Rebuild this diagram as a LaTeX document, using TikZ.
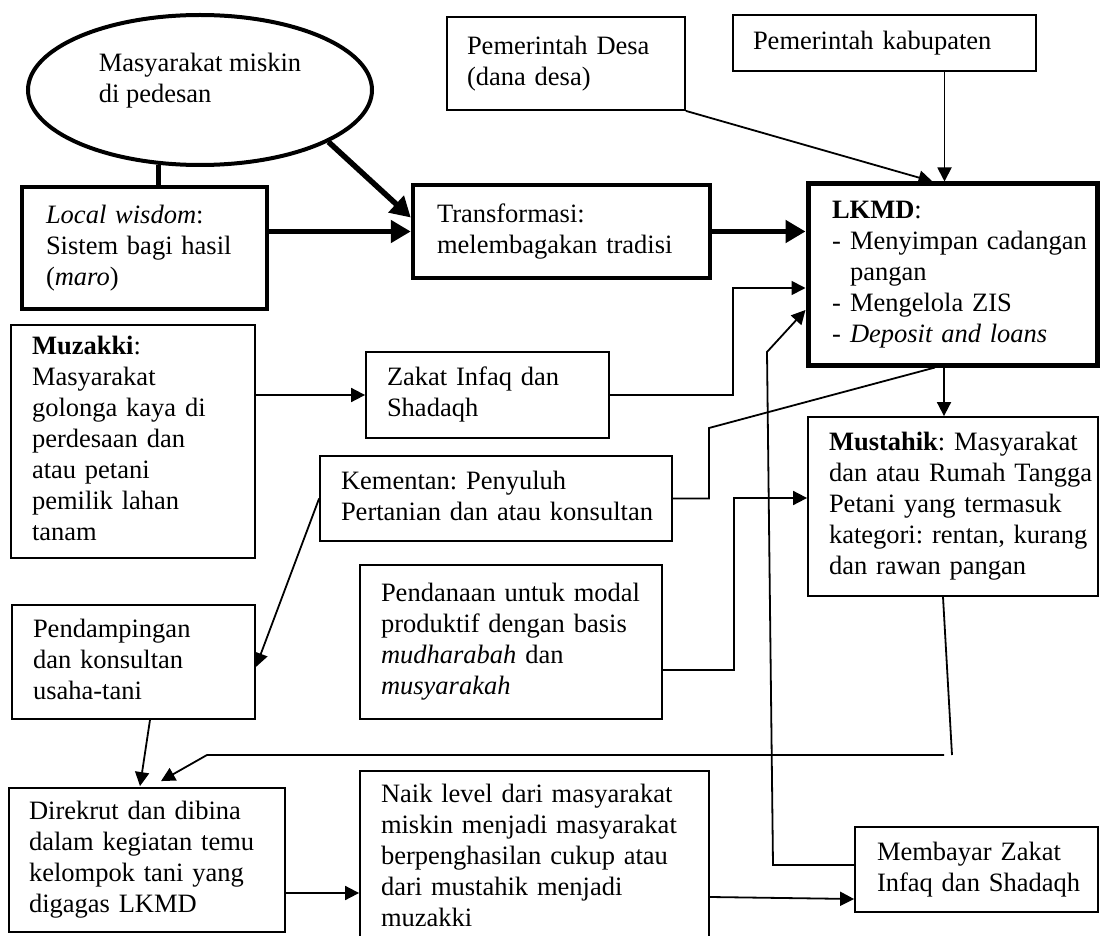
\documentclass[tikz,border=0pt]{standalone}
\usepackage{fontspec}
\setmainfont{Liberation Serif}
\usetikzlibrary{arrows.meta,calc,shapes.geometric}
\newcommand{\bxt}[1]{\begin{tabular}{@{}l@{}}#1\end{tabular}}
\frenchspacing
\begin{document}
\fontsize{26.5}{31}\selectfont
\begin{tikzpicture}[x=1pt,y=-1pt,
  font=\fontsize{26.5}{31}\selectfont,
  thinbox/.style={draw, line width=1.8pt, rectangle, inner ysep=0pt, inner xsep=21pt, align=left},
  thickbox/.style={draw, line width=4.5pt, rectangle, inner ysep=0pt, inner xsep=24pt, align=left},
  thinline/.style={line width=1.8pt},
  thinarr/.style={line width=1.8pt, -{Triangle[length=14pt,width=14pt]}},
  thickarr/.style={line width=5.5pt, -{Triangle[length=20pt,width=22pt]}},
]
\fill[white] (0,0) rectangle (1101,936);
\useasboundingbox (0,0) rectangle (1101,936);

% nodes
\node[draw, ellipse, line width=4pt, minimum width=344pt, minimum height=150pt, inner sep=0pt, align=left] (E) at (200,90)
  {\bxt{Masyarakat miskin\\di pedesan\rule[-27.3pt]{0pt}{27.3pt}}};
\node[thickbox, minimum width=245pt, minimum height=122pt, text width=197pt] (LW) at (144.5,248)
  {\bxt{\textit{Local wisdom}:\\Sistem bagi hasil\\(\textit{maro})}};
\node[thickbox, minimum width=297pt, minimum height=93pt, text width=249pt] (TR) at (561.5,231.5)
  {\bxt{Transformasi:\\melembagakan tradisi}};
\node[thickbox, line width=5pt, minimum width=289pt, minimum height=181pt, text width=241pt] (LK) at (952.5,274.5)
  {\bxt{\textbf{LKMD}:\\\makebox[18pt][l]{-}Menyimpan cadangan\\\hspace*{18pt}pangan\\\makebox[18pt][l]{-}Mengelola ZIS\\\makebox[18pt][l]{-}\textit{Deposit and loans}}};
\node[thinbox, minimum width=238pt, minimum height=93pt, inner xsep=20pt, text width=198pt] (PD) at (566,63.5)
  {\bxt{Pemerintah Desa\\(dana desa)}};
\node[thinbox, minimum width=303pt, minimum height=56pt, inner xsep=20pt, text width=263pt] (PK) at (884.5,43)
  {\bxt{Pemerintah kabupaten}};
\node[thinbox, minimum width=244pt, minimum height=233pt, text width=202pt] (MZ) at (133,441.5)
  {\bxt{\textbf{Muzakki}:\\Masyarakat\\golonga kaya di\\perdesaan dan\\atau petani\\pemilik lahan\\tanam}};
\node[thinbox, minimum width=243pt, minimum height=86pt, text width=201pt] (ZS) at (487.5,395)
  {\bxt{Zakat Infaq dan\\Shadaqh}};
\node[thinbox, minimum width=352pt, minimum height=85pt, text width=310pt] (KM) at (496,498.5)
  {\bxt{Kementan: Penyuluh\\Pertanian dan atau konsultan}};
\node[thinbox, minimum width=290pt, minimum height=179pt, text width=248pt] (MS) at (953,506.5)
  {\bxt{\textbf{Mustahik}: Masyarakat\\dan atau Rumah Tangga\\Petani yang termasuk\\kategori: rentan, kurang\\dan rawan pangan}};
\node[thinbox, minimum width=302pt, minimum height=154pt, text width=260pt] (PN) at (511,642)
  {\bxt{Pendanaan untuk modal\\produktif dengan basis\\\textit{mudharabah} dan\\\textit{musyarakah}}};
\node[thinbox, minimum width=243pt, minimum height=114pt, text width=201pt] (PP) at (133.5,662)
  {\bxt{Pendampingan\\dan konsultan\\usaha-tani}};
\node[thinbox, minimum width=276pt, minimum height=144pt, inner xsep=20pt, text width=236pt] (DR) at (147,860)
  {\bxt{Direkrut dan dibina\\dalam kegiatan temu\\kelompok tani yang\\digagas LKMD}};
\node[thinbox, minimum width=349pt, minimum height=174pt, text width=307pt] (NL) at (534.5,858)
  {\bxt{Naik level dari masyarakat\\miskin menjadi masyarakat\\berpenghasilan cukup atau\\dari mustahik menjadi\\muzakki}};
\node[thinbox, minimum width=243pt, minimum height=85pt, inner xsep=22pt, text width=199pt] (MB) at (976.5,869.5)
  {\bxt{Membayar Zakat\\Infaq dan Shadaqh}};

% connectors
\draw[line width=4.5pt] (E.-119) -- (E.-119 |- LW.north);
\draw[thickarr] (E.-22) -- ([yshift=14pt]TR.west);
\draw[thickarr] (TR.west -| LW.east) -- (TR.west);
\draw[thickarr] (TR.east) -- (TR.east -| LK.west);
\draw[thinarr] (PD.south east) -- ([xshift=-20pt]LK.north);
\draw[thinarr] ([xshift=-8pt]LK.north |- PK.south) -- ([xshift=-8pt]LK.north);
\draw[thinarr] (ZS.west -| MZ.east) -- (ZS.west);
\draw[thinarr] (ZS.east) -- (ZS.east -| 733,0) |- ([yshift=-13.5pt]LK.west);
\draw[thinline] (KM.east) -- (KM.east -| 709,0) -- (709,428) -- ([xshift=-17.5pt]LK.south);
\draw[thinarr] ([yshift=4.5pt]MB.west) -- (773,865) -- (767,352) -- ([yshift=-35.5pt]LK.west);
\draw[thinarr] ([xshift=-8.5pt]LK.south) -- ([xshift=-8.5pt]LK.south |- MS.north);
\draw[thinarr] ([yshift=-28pt]PN.east) -- ++(71,0) |- ([yshift=8.5pt]MS.west);
\coordinate (s1) at (952,755);
\coordinate (s2) at (944,755);
\draw[thinline] ([xshift=-10pt]MS.south) -- (s1);
\draw[thinarr] (s2) -- (207,755) -- ([xshift=14pt,yshift=6pt]DR.north);
\draw[thinarr] ([xshift=16.5pt]PP.south) -- ([xshift=-7pt,yshift=1pt]DR.north);
\draw[thinarr] (KM.west) -- ([yshift=-5pt]PP.east);
\draw[thinarr] (DR.east |- 0,893) -- (NL.west |- 0,893);
\draw[thinarr] (NL.east |- 0,897) -- (MB.west |- 0,899);
\end{tikzpicture}
\end{document}
